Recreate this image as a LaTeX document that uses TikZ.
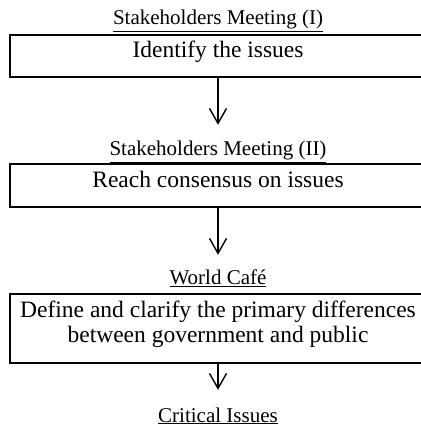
\documentclass[tikz,border=0pt]{standalone}
\usepackage{fontspec}
\setmainfont{Liberation Serif}
\usetikzlibrary{arrows.meta,positioning}
\tikzstyle{heading}=[inner sep=0pt,text height=15pt,font=\fontsize{21}{25}\selectfont]
\tikzstyle{stage}=[draw,line width=1.8pt,inner sep=0pt,minimum width=416pt,anchor=north,align=center,font=\fontsize{23.5}{25}\selectfont]
\tikzstyle{flow}=[-{Straight Barb[length=15pt,width=17pt]},line width=1.4pt,draw]

\begin{document}
\begin{tikzpicture}[x=1pt,y=-1pt]
        \useasboundingbox (0,0) rectangle (420,427);
        \node [heading,anchor=base] (t1) at (218,25) {\underline{Stakeholders Meeting (I)}};
        \node [stage,text height=23pt,text depth=19pt] (b1) at (218,34) {Identify the issues};
        \node [heading,anchor=base] (t2) at (218,156) {\underline{Stakeholders Meeting (II)}};
        \node [stage,text height=24pt,text depth=19pt] (b2) at (218,163) {Reach consensus on issues};
        \node [heading,anchor=base] (t3) at (218,284) {\underline{World Café}};
        \node [stage,text height=49pt,text depth=20pt] (b3) at (218,293) {Define and clarify the primary differences\\between government and public};
        \node [heading,anchor=base] (t4) at (218,422) {\underline{Critical Issues}};

        \path [flow,shorten >=16pt] (b1) -- (t2);
        \path [flow,shorten >=14pt] (b2) -- (t3);
        \path [flow,shorten >=17pt] (b3) -- (t4);
      \end{tikzpicture}
\end{document}
